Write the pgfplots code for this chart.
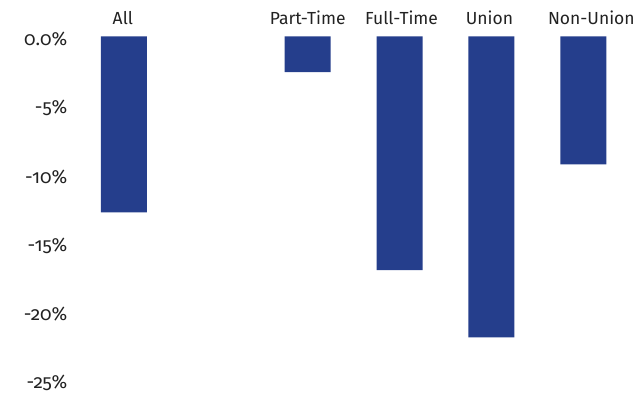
\documentclass[border=0pt]{standalone}
\usepackage{pgfplots}
\pgfplotsset{compat=1.18}
\usepackage{fontspec}
\setmainfont[Numbers=OldStyle]{Fira Sans}
\definecolor{barblue}{RGB}{37,62,140}
\definecolor{txt}{RGB}{34,34,34}
\begin{document}
\begin{tikzpicture}
\begin{axis}[
  scale only axis,
  width=638pt, height=396pt,
  xmin=-1.348, xmax=5.587,
  ymin=-26.13, ymax=2.653,
  axis line style={draw=none},
  ybar, bar width=46pt, bar shift=0pt,
  ytick={-25,-20,-15,-10,-5,0},
  yticklabels={-25\%,-20\%,-15\%,-10\%,-5\%,0.0\%},
  xtick=\empty,
  major tick length=0pt,
  tick style={draw=none},
  /pgf/number format/assume math mode=true,
  yticklabel style={anchor=east, xshift=71pt, yshift=-3pt, font=\fontsize{19}{22}\selectfont, text=txt},
  clip=false,
]
\path (rel axis cs:0,0) rectangle (rel axis cs:1,1);
\addplot[fill=barblue, draw=none] coordinates {(0,-12.8) (2,-2.6) (3,-17.0) (4,-21.9) (5,-9.3)};
\foreach \x/\lab/\dx in {0/All/-1,2/Part-Time/0,3/Full-Time/2,4/Union/-2,5/Non-Union/8}{
  \edef\tmp{\noexpand\node[text=txt, xshift=\dx pt, font=\noexpand\fontsize{17.5}{20}\noexpand\selectfont] at (axis cs:\x,1.35) {\lab};}
  \tmp
}
\end{axis}
\end{tikzpicture}
\end{document}
